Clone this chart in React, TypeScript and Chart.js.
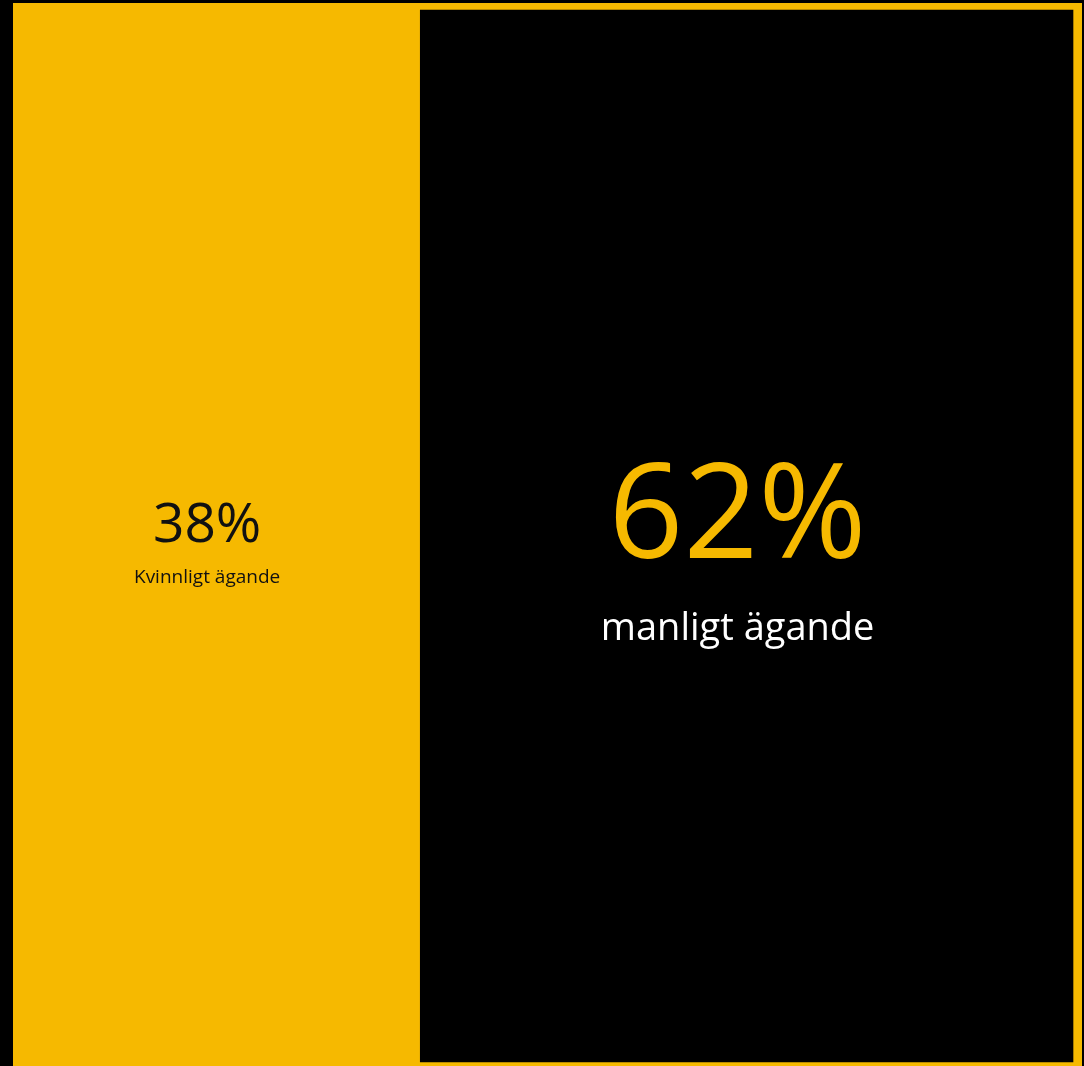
import React, { useEffect, useRef } from "react";
import { Chart, registerables } from "chart.js";

Chart.register(...registerables);

const categories = ["Ägande"];
const womenShare = [38];
const menShare = [62];
const segmentLabels = ["Kvinnligt ägande", "manligt ägande"];

const YELLOW = "#F6B900";

const labelPlugin = {
  id: "segmentLabels",
  afterDatasetsDraw(chart: any) {
    const ctx = chart.ctx;
    const styles = [
      { pctFont: "55px 'Open Sans'", pctColor: "#111", pctDy: -8, subFont: "19px 'Open Sans'", subColor: "#111", subDy: 43, dx: -9 },
      { pctFont: "131px 'Open Sans'", pctColor: YELLOW, pctDy: -14, subFont: "38px 'Open Sans'", subColor: "#ffffff", subDy: 95, dx: -13 },
    ];
    chart.data.datasets.forEach((ds: any, i: number) => {
      const el = chart.getDatasetMeta(i).data[0];
      if (!el) return;
      const s = styles[i];
      const cx = (el.x + el.base) / 2 + s.dx;
      const cy = el.y;
      ctx.save();
      ctx.textAlign = "center";
      ctx.textBaseline = "middle";
      ctx.fillStyle = s.pctColor;
      ctx.font = s.pctFont;
      ctx.fillText(ds.data[0] + "%", cx, cy + s.pctDy);
      ctx.fillStyle = s.subColor;
      ctx.font = s.subFont;
      ctx.fillText(segmentLabels[i], cx, cy + s.subDy);
      ctx.restore();
    });
  },
};

export default function App() {
  const ref = useRef<HTMLCanvasElement>(null);
  useEffect(() => {
    if (!ref.current) return;
    const chart = new Chart(ref.current, {
      type: "bar",
      data: {
        labels: categories,
        datasets: [
          {
            label: segmentLabels[0],
            data: womenShare,
            backgroundColor: YELLOW,
            borderWidth: 0,
          },
          {
            label: segmentLabels[1],
            data: menShare,
            backgroundColor: "#000000",
            borderColor: YELLOW,
            borderWidth: { left: 1, top: 7, right: 9, bottom: 4 },
            borderSkipped: false,
          },
        ],
      },
      options: {
        indexAxis: "y",
        responsive: false,
        animation: false,
        layout: { padding: { left: 13, top: 3, right: 2, bottom: 0 } },
        datasets: { bar: { barPercentage: 1, categoryPercentage: 1 } },
        scales: {
          x: { stacked: true, min: 0, max: 100, display: false },
          y: { stacked: true, display: false },
        },
        plugins: { legend: { display: false }, tooltip: { enabled: false } },
      } as any,
      plugins: [labelPlugin],
    });
    return () => chart.destroy();
  }, []);
  return (
    <div style={{ position: "absolute", left: 0, top: 0, width: 1084, height: 1066, background: "#000" }}>
      <canvas ref={ref} width={1084} height={1066} style={{ display: "block" }} />
    </div>
  );
}
